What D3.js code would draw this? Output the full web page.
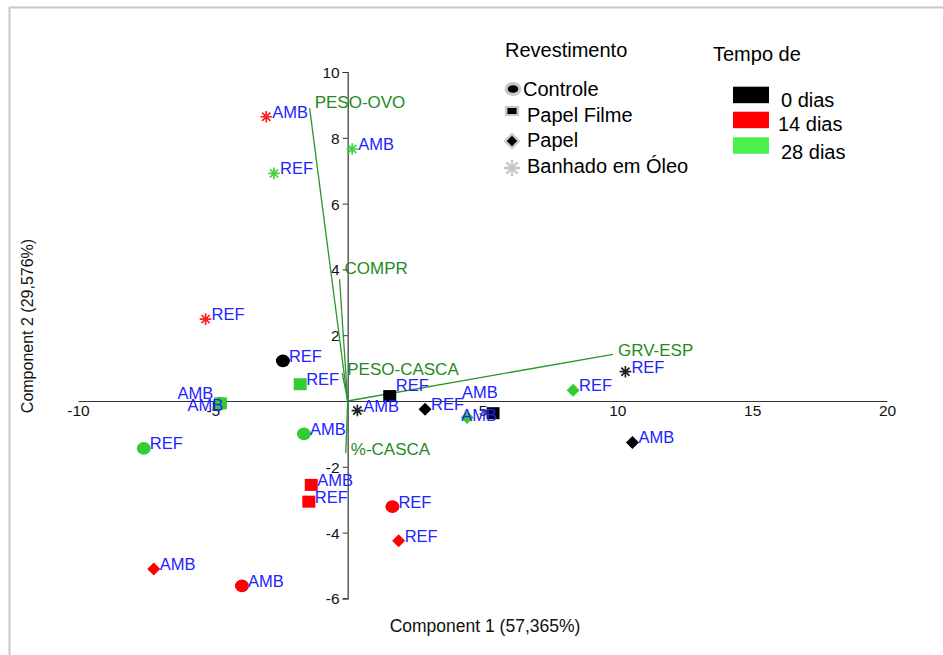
<!DOCTYPE html>
<html><head><meta charset="utf-8">
<script src="https://cdn.jsdelivr.net/npm/d3@7"></script>
<style>
body{margin:0;background:#fff;}
text{font-family:"Liberation Sans",Arial,sans-serif;}
</style></head>
<body><svg id="c" width="943" height="655"></svg>
<script>
// ---- data ----
const pointLabel = ["AMB","REF","AMB","REF","AMB","REF",
                    "REF","AMB","REF","AMB","REF","AMB",
                    "REF","AMB","AMB","REF","REF","AMB",
                    "REF","AMB","REF","AMB","REF","AMB"];
const coating = ["Banhado em Óleo","Banhado em Óleo","Banhado em Óleo","Banhado em Óleo","Banhado em Óleo","Banhado em Óleo",
                 "Controle","Controle","Controle","Controle","Controle","Controle",
                 "Papel Filme","Papel Filme","Papel Filme","Papel Filme","Papel Filme","Papel Filme",
                 "Papel","Papel","Papel","Papel","Papel","Papel"];
const storage = ["14 dias","14 dias","28 dias","28 dias","0 dias","0 dias",
                 "0 dias","0 dias","14 dias","14 dias","28 dias","28 dias",
                 "0 dias","0 dias","14 dias","14 dias","28 dias","28 dias",
                 "0 dias","0 dias","14 dias","14 dias","28 dias","28 dias"];
const comp1 = [-3.02,-5.27, 0.17,-2.73, 0.36,10.30,
               -2.40,-4.75, 1.66,-3.92,-7.56,-1.62,
                1.56, 5.39,-1.35,-1.44,-1.76,-4.72,
                2.87,10.56, 1.89,-7.19, 8.36, 4.43];
const comp2 = [ 8.64, 2.49, 7.66, 6.92,-0.29, 0.89,
                1.22,-0.08,-3.21,-5.62,-1.44,-1.00,
                0.15,-0.37,-2.55,-3.06, 0.51,-0.07,
               -0.25,-1.26,-4.25,-5.11, 0.33,-0.50];
const loadingNames = ["PESO-OVO","COMPR","PESO-CASCA","%-CASCA","GRV-ESP"];
const loadingX = [-1.41,-0.30,-0.20,-0.07,9.84];
const loadingY = [ 8.90, 3.70, 0.85,-1.59,1.42];
const xTicks = [-10,-5,0,5,10,15,20];
const yTicks = [-6,-4,-2,0,2,4,6,8,10];
const coatingNames = ["Controle","Papel Filme","Papel","Banhado em Óleo"];
const timeNames = ["0 dias","14 dias","28 dias"];
const xTitle = "Component 1 (57,365%)";
const yTitle = "Component 2 (29,576%)";

// ---- drawing ----
const svg = d3.select("#c");
const x = d3.scaleLinear().domain([-10,20]).range([78,887]);
const y = d3.scaleLinear().domain([-6,10]).range([598.4,72]);
const timeColor = d3.scaleOrdinal().domain(timeNames).range(["#000000","#ff0000","#33cc33"]);
const legendColor = d3.scaleOrdinal().domain(timeNames).range(["#000000","#ff0000","#4cf04c"]);
const starColor = {"0 dias":"#222","14 dias":"#ff2020","28 dias":"#44d444"};

// frame
svg.append("rect").attr("x",9.5).attr("y",7.5).attr("width",1000).attr("height",700)
  .attr("fill","none").attr("stroke","#c8c8c8").attr("stroke-width",2);

// axes
const gx = svg.append("g").attr("transform",`translate(0,${y(0)})`)
  .call(d3.axisBottom(x).tickValues(xTicks).tickSize(0).tickPadding(4).tickFormat(d=>d===0?"":d));
const gy = svg.append("g").attr("transform",`translate(${x(0)},0)`)
  .call(d3.axisLeft(y).tickValues(yTicks).tickSize(5).tickPadding(3).tickFormat(d=>d===0?"":d));
[gx,gy].forEach(g=>{
  g.select(".domain").attr("stroke","#333").attr("stroke-width",1.2);
  g.selectAll(".tick line").attr("stroke","#333");
  g.selectAll(".tick text").attr("font-size",15.5).attr("fill","#111")
   .attr("font-family","Liberation Sans, Arial, sans-serif");
});
gy.selectAll(".tick text").attr("dy","0.35em");

svg.append("text").attr("x",485).attr("y",632).attr("text-anchor","middle")
  .attr("font-size",17.5).attr("fill","#111").text(xTitle);
svg.append("text").attr("transform","translate(33,326) rotate(-90)").attr("text-anchor","middle")
  .attr("font-size",16).attr("fill","#111").text(yTitle);

// loading vectors
const loadG = svg.append("g");
loadingNames.forEach((n,i)=>{
  loadG.append("line").attr("x1",x(0)).attr("y1",y(0)).attr("x2",x(loadingX[i])).attr("y2",y(loadingY[i]))
    .attr("stroke","#2a962a").attr("stroke-width",1.3);
});
const loadDy = {"COMPR":-5,"PESO-OVO":0};
loadingNames.forEach((n,i)=>{
  loadG.append("text").attr("x",x(loadingX[i])+5).attr("y",y(loadingY[i])+(n in loadDy?loadDy[n]:1.5))
    .attr("font-size",17).attr("fill","#1f8a1f").text(n);
});

// markers
function drawMarker(g, shape, cx, cy, col, sx, sy){
  const s = sx||1, t = sy||s;
  if(shape==="Controle"){
    g.append("ellipse").attr("cx",cx).attr("cy",cy).attr("rx",7*s).attr("ry",6.3*t).attr("fill",col);
  } else if(shape==="Papel Filme"){
    g.append("rect").attr("x",cx-6.5*s).attr("y",cy-6*t).attr("width",13*s).attr("height",12*t).attr("fill",col);
  } else if(shape==="Papel"){
    const r=6.5*s, q=6.5*t;
    g.append("path").attr("d",`M${cx},${cy-q}L${cx+r},${cy}L${cx},${cy+q}L${cx-r},${cy}Z`).attr("fill",col);
  } else {
    const r=5.8*s; let d="";
    for(let k=0;k<4;k++){const a=k*Math.PI/4;d+=`M${cx-r*Math.cos(a)},${cy-r*Math.sin(a)}L${cx+r*Math.cos(a)},${cy+r*Math.sin(a)}`;}
    g.append("path").attr("d",d).attr("stroke",col).attr("stroke-width",1.7*Math.min(s,1.4)).attr("fill","none");
  }
}
const order = d3.range(comp1.length).sort((a,b)=>timeNames.indexOf(storage[a])-timeNames.indexOf(storage[b]));
const mg = svg.append("g");
order.forEach(i=>{
  const col = coating[i]==="Banhado em Óleo" ? starColor[storage[i]] : timeColor(storage[i]);
  drawMarker(mg, coating[i], x(comp1[i]), y(comp2[i]), col);
});

// point labels (nudges for overlapping labels)
const nudge = {7:[-32,7],17:[-43,-4],12:[6,-5],13:[-31,-15],23:[-6,4]};
const lg = svg.append("g");
d3.range(comp1.length).forEach(i=>{
  const nd = nudge[i]||[6,1];
  lg.append("text").attr("x",x(comp1[i])+nd[0]).attr("y",y(comp2[i])+nd[1])
    .attr("font-size",16.5).attr("fill","#2222ff").text(pointLabel[i]);
});

// legend: coating
svg.append("text").attr("x",505).attr("y",57).attr("font-size",20).attr("fill","#000").text("Revestimento");
const legY = [89,115,140,166];
coatingNames.forEach((n,k)=>{
  const cy = legY[k];
  const g = svg.append("g");
  if(n==="Banhado em Óleo"){
    drawMarker(g,n,512,cy+2,"#c8c8c8",1.4);
  } else if(n==="Controle"){
    drawMarker(g,n,513,cy,"#c8c8c8",1.2,1.1);
    drawMarker(g,n,513,cy,"#000",0.75,0.6);
  } else if(n==="Papel Filme"){
    drawMarker(g,n,512,cy-4,"#c8c8c8",1.1,0.85);
    drawMarker(g,n,512,cy-4,"#000",0.7,0.5);
  } else {
    drawMarker(g,n,512,cy+1,"#c8c8c8",1.3,1.3);
    drawMarker(g,n,512,cy+1,"#000",0.8,0.8);
  }
  svg.append("text").attr("x",n==="Controle"?523:527).attr("y",cy+7).attr("font-size",20).attr("fill","#000").text(n);
});
// legend: time
svg.append("text").attr("x",713).attr("y",61).attr("font-size",20).attr("fill","#000").text("Tempo de");
const boxY = [86.7,111.7,137.3];
const txtX = [781,778,781];
const txtY = [107,130.5,159];
timeNames.forEach((n,k)=>{
  svg.append("rect").attr("x",733).attr("y",boxY[k]).attr("width",36).attr("height",16.5).attr("fill",legendColor(n));
  svg.append("text").attr("x",txtX[k]).attr("y",txtY[k]).attr("font-size",20).attr("fill","#000").text(n);
});
</script></body></html>
